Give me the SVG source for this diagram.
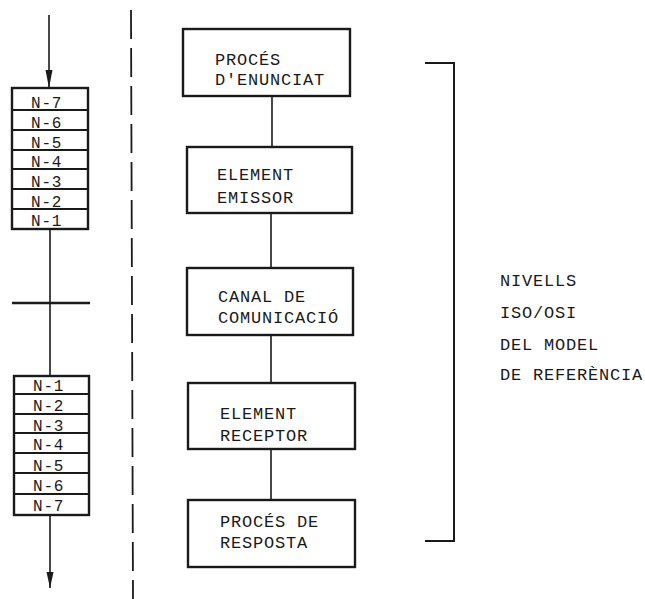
<svg xmlns="http://www.w3.org/2000/svg" width="645" height="599" viewBox="0 0 645 599">
<defs>
<style>
.box{fill:#fff;stroke:#1a1a1a;stroke-width:2.4}
.row{stroke:#1a1a1a;stroke-width:1.8}
.ln{stroke:#1a1a1a;stroke-width:1.6;fill:none}
.t{font-family:"Liberation Mono","DejaVu Sans Mono",monospace;font-size:17px;letter-spacing:0.8px;fill:#1a1a1a}
.n{font-family:"Liberation Mono","DejaVu Sans Mono",monospace;font-size:16px;letter-spacing:0.8px;fill:#1a1a1a}
</style>
</defs>
<rect width="645" height="599" fill="#fff"/>

<g id="connectors">
<line class="ln" x1="49" y1="15" x2="49" y2="88" />
<path d="M45.5,70 L52.5,70 L49,88 Z" fill="#1a1a1a"/>
<line class="ln" x1="50" y1="229" x2="50" y2="376"/>
<line class="ln" x1="12" y1="303" x2="90" y2="303" style="stroke-width:2.6"/>
<line class="ln" x1="50" y1="515" x2="50" y2="588"/>
<path d="M46.5,572 L53.5,572 L50,588 Z" fill="#1a1a1a"/>
<line class="ln" x1="131" y1="10" x2="133" y2="599" style="stroke-dasharray:29 9;stroke-width:1.8"/>
<line class="ln" x1="272" y1="96" x2="272" y2="147"/>
<line class="ln" x1="271" y1="213" x2="271" y2="268"/>
<line class="ln" x1="271" y1="335" x2="271" y2="383"/>
<line class="ln" x1="271" y1="449" x2="271" y2="500"/>
<path class="ln" d="M425,63 L454,63 L454,541 L425,541" style="stroke-width:2"/>
</g>

<g id="stack-top">
<rect class="box" x="12" y="88" width="76" height="141"/>
<line class="row" x1="12" y1="110" x2="88" y2="110"/>
<line class="row" x1="12" y1="130" x2="88" y2="130"/>
<line class="row" x1="12" y1="150" x2="88" y2="150"/>
<line class="row" x1="12" y1="169" x2="88" y2="169"/>
<line class="row" x1="12" y1="189" x2="88" y2="189"/>
<line class="row" x1="12" y1="209" x2="88" y2="209"/>
<text class="n" x="31" y="108">N-7</text>
<text class="n" x="31" y="128">N-6</text>
<text class="n" x="31" y="148">N-5</text>
<text class="n" x="31" y="167">N-4</text>
<text class="n" x="31" y="187">N-3</text>
<text class="n" x="31" y="207">N-2</text>
<text class="n" x="31" y="226">N-1</text>
</g>

<g id="stack-bottom">
<rect class="box" x="14" y="376" width="75" height="139"/>
<line class="row" x1="14" y1="394" x2="89" y2="394"/>
<line class="row" x1="14" y1="414" x2="89" y2="414"/>
<line class="row" x1="14" y1="433" x2="89" y2="433"/>
<line class="row" x1="14" y1="453" x2="89" y2="453"/>
<line class="row" x1="14" y1="473" x2="89" y2="473"/>
<line class="row" x1="14" y1="494" x2="89" y2="494"/>
<text class="n" x="33" y="391">N-1</text>
<text class="n" x="33" y="411">N-2</text>
<text class="n" x="33" y="431">N-3</text>
<text class="n" x="33" y="450">N-4</text>
<text class="n" x="33" y="471">N-5</text>
<text class="n" x="33" y="491">N-6</text>
<text class="n" x="33" y="511">N-7</text>
</g>

<g id="proces-enunciat">
<rect class="box" x="183" y="29" width="167" height="67"/>
<text class="t" x="215" y="65">PROCÉS</text>
<text class="t" x="215" y="85">D'ENUNCIAT</text>
</g>
<g id="element-emissor">
<rect class="box" x="187" y="147" width="165" height="66"/>
<text class="t" x="217" y="180">ELEMENT</text>
<text class="t" x="217" y="203">EMISSOR</text>
</g>
<g id="canal-comunicacio">
<rect class="box" x="187" y="268" width="166" height="67"/>
<text class="t" x="218" y="302">CANAL DE</text>
<text class="t" x="218" y="323">COMUNICACIÓ</text>
</g>
<g id="element-receptor">
<rect class="box" x="188" y="383" width="167" height="66"/>
<text class="t" x="220" y="419">ELEMENT</text>
<text class="t" x="220" y="441">RECEPTOR</text>
</g>
<g id="proces-resposta">
<rect class="box" x="188" y="500" width="167" height="67"/>
<text class="t" x="220" y="527">PROCÉS DE</text>
<text class="t" x="220" y="548">RESPOSTA</text>
</g>

<g id="label-nivells">
<text class="t" x="500" y="286">NIVELLS</text>
<text class="t" x="500" y="318">ISO/OSI</text>
<text class="t" x="500" y="350">DEL MODEL</text>
<text class="t" x="500" y="380">DE REFERÈNCIA</text>
</g>
</svg>
